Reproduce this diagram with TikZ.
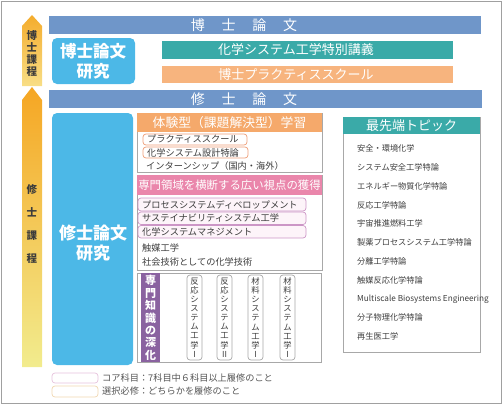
\documentclass[tikz,border=0pt]{standalone}
\usepackage{fontspec}
\setmainfont{Noto Sans CJK JP}
\definecolor{framegray}{HTML}{A0A0A0}
\definecolor{boxgray}{HTML}{A8A8A8}
\definecolor{textgray}{HTML}{3C3C3C}
\definecolor{legendgray}{HTML}{555555}
\definecolor{barblue}{HTML}{6F96C9}
\definecolor{lightblue}{HTML}{4CB8E7}
\definecolor{teal}{HTML}{3AAAA8}
\definecolor{orangebar}{HTML}{F7B47E}
\definecolor{orangehead}{HTML}{F5A96B}
\definecolor{pinkhead}{HTML}{EA86AB}
\definecolor{purplebar}{HTML}{8A62A0}
\definecolor{orangeline}{HTML}{EE9E78}
\definecolor{pinkline}{HTML}{CC96C6}
\definecolor{pinkfill}{HTML}{FDF4F9}
\definecolor{legpink}{HTML}{E6C2DC}
\definecolor{legorange}{HTML}{F0D6B0}
\definecolor{arrowtopA}{HTML}{F4AC2C}
\definecolor{arrowbotA}{HTML}{F8DE86}
\definecolor{arrowtopB}{HTML}{F5A623}
\definecolor{arrowbotB}{HTML}{F2EC8E}
\begin{document}
\begin{tikzpicture}[x=1pt,y=-1pt,
  wtxt/.style={inner sep=0pt, text=white},
  itemtxt/.style={inner sep=0pt, anchor=west, text=textgray, font=\fontsize{9.2}{11}\selectfont},
  topictxt/.style={inner sep=0pt, anchor=west, text=textgray, font=\fontsize{8.2}{10}\selectfont},
  legtxt/.style={inner sep=0pt, anchor=west, text=legendgray, font=\fontsize{9.2}{11}\selectfont},
  vtxt/.style={inner sep=0pt, align=center, text=textgray, font=\fontsize{8.3}{9.1}\selectfont},
  sectbox/.style={draw=boxgray, line width=0.7},
  orangeitem/.style={draw=orangeline, line width=0.7, rounded corners=3, fill=white},
  pinkitem/.style={draw=pinkline, line width=0.7, rounded corners=3, fill=pinkfill},
  vitem/.style={draw=boxgray, line width=0.7, rounded corners=3, fill=white}
]
\useasboundingbox (0,0) rectangle (503,415);
\draw[framegray, line width=0.8] (1,1) rectangle (501,403);

% level arrows
\shade[top color=arrowtopA, bottom color=arrowbotA] (32,15) -- (42,26) -- (42,86) -- (22,86) -- (22,26) -- cycle;
\shade[top color=arrowtopB, bottom color=arrowbotB] (32,87) -- (42,100) -- (42,367) -- (22,367) -- (22,100) -- cycle;
\node[inner sep=0pt, align=center, text=textgray, font=\fontsize{10.5}{12}\selectfont\bfseries] (dlabel) at (32,53) {博\\士\\課\\程};
\node[inner sep=0pt, align=center, text=textgray, font=\fontsize{10.5}{23}\selectfont\bfseries] (mlabel) at (32,224.5) {修\\士\\課\\程};

% doctoral level
\fill[barblue] (49,16) rectangle (481,34);
\node[wtxt, font=\fontsize{14}{16}\selectfont] (dthesis) at (244,25) {博\hspace{1.2em}士\hspace{1.2em}論\hspace{1.2em}文};
\fill[lightblue, rounded corners=5] (52,38) rectangle (135,84);
\node[wtxt, align=center, font=\fontsize{16.5}{20}\selectfont\bfseries] (dresearch) at (93,61.5) {博士論文\\研究};
\fill[teal] (162,41) rectangle (453,59);
\node[wtxt, font=\fontsize{13}{15}\selectfont] (lecture) at (296,50) {化学システム工学特別講義};
\fill[orangebar] (162,66) rectangle (453,83);
\node[wtxt, font=\fontsize{13}{15}\selectfont] (dschool) at (296,74.5) {博士プラクティススクール};

% master level
\fill[barblue] (49,90) rectangle (482,108);
\node[wtxt, font=\fontsize{14}{16}\selectfont] (mthesis) at (244,99) {修\hspace{1.2em}士\hspace{1.2em}論\hspace{1.2em}文};
\fill[lightblue, rounded corners=5] (52,113) rectangle (133,365);
\node[wtxt, align=center, font=\fontsize{17}{20}\selectfont\bfseries] (mresearch) at (93,243) {修士論文\\研究};

% experiential learning
\draw[sectbox] (137,113) rectangle (322,172);
\fill[orangehead] (137,113) rectangle (322,132);
\node[wtxt, font=\fontsize{12.8}{15}\selectfont] (exphead) at (229.5,122.5) {体験型（課題解決型）学習};
\draw[orangeitem] (143,134) rectangle (247,145);
\node[itemtxt] (ps) at (147,139.5) {プラクティススクール};
\draw[orangeitem] (143,147) rectangle (248,158);
\node[itemtxt] (design) at (147,152.5) {化学システム設計特論};
\node[itemtxt] (intern) at (146,166) {インターンシップ（国内・海外）};

% broad perspective
\draw[sectbox] (137,175) rectangle (322,270);
\fill[pinkhead] (137,175) rectangle (322,195);
\node[wtxt, font=\fontsize{11.4}{13}\selectfont] (broadhead) at (229.5,185.5) {専門領域を横断する広い視点の獲得};
\draw[pinkitem] (138,198) rectangle (306,211);
\node[itemtxt] (psd) at (142,204.5) {プロセスシステムディベロップメント};
\draw[pinkitem] (138,212) rectangle (306,224.5);
\node[itemtxt] (sus) at (142,218.2) {サステイナビリティシステム工学};
\draw[pinkitem] (138,225.5) rectangle (306,238);
\node[itemtxt] (mgmt) at (142,231.8) {化学システムマネジメント};
\node[itemtxt] (cat) at (142,248) {触媒工学};
\node[itemtxt] (soc) at (142,262) {社会技術としての化学技術};

% deepening
\draw[sectbox] (137,273) rectangle (321,362);
\fill[purplebar] (141,273) rectangle (160,362);
\node[wtxt, align=center, font=\fontsize{11}{12.4}\selectfont\bfseries] (deephead) at (150.5,318) {専\\門\\知\\識\\の\\深\\化};
\draw[vitem] (187,275) rectangle (202,360);
\node[vtxt] (r1) at (194.5,317.5) {反\\応\\シ\\ス\\テ\\ム\\工\\学\\I};
\draw[vitem] (217,275) rectangle (232,360);
\node[vtxt] (r2) at (224.5,317.5) {反\\応\\シ\\ス\\テ\\ム\\工\\学\\II};
\draw[vitem] (248,275) rectangle (263,360);
\node[vtxt] (m1) at (255.5,317.5) {材\\料\\シ\\ス\\テ\\ム\\工\\学\\I};
\draw[vitem] (280,275) rectangle (295,360);
\node[vtxt] (m2) at (287.5,317.5) {材\\料\\シ\\ス\\テ\\ム\\工\\学\\I};

% topics
\draw[sectbox] (343,117) rectangle (480,352);
\fill[teal] (343,117) rectangle (480,134);
\node[wtxt, font=\fontsize{13}{15}\selectfont] (tophead) at (411.5,125.5) {最先端トピック};
\node[topictxt] (t1) at (357,148.5) {安全・環境化学};
\node[topictxt] (t2) at (357,167.3) {システム安全工学特論};
\node[topictxt] (t3) at (357,186.1) {エネルギー物質化学特論};
\node[topictxt] (t4) at (357,204.9) {反応工学特論};
\node[topictxt] (t5) at (357,223.7) {宇宙推進燃料工学};
\node[topictxt] (t6) at (357,242.5) {製薬プロセスシステム工学特論};
\node[topictxt] (t7) at (357,261.3) {分離工学特論};
\node[topictxt] (t8) at (357,280.1) {触媒反応化学特論};
\node[topictxt] (t9) at (357,298.9) {Multiscale Biosystems Engineering};
\node[topictxt] (t10) at (357,317.7) {分子物理化学特論};
\node[topictxt] (t11) at (357,336.5) {再生医工学};

% legend
\draw[legpink, line width=0.7, rounded corners=3] (52,373) rectangle (98,383);
\node[legtxt] (leg1) at (102,378) {コア科目：7科目中６科目以上履修のこと};
\draw[legorange, line width=0.7, rounded corners=3] (52,386) rectangle (98,397);
\node[legtxt] (leg2) at (102,391.5) {選択必修：どちらかを履修のこと};
\end{tikzpicture}
\end{document}
